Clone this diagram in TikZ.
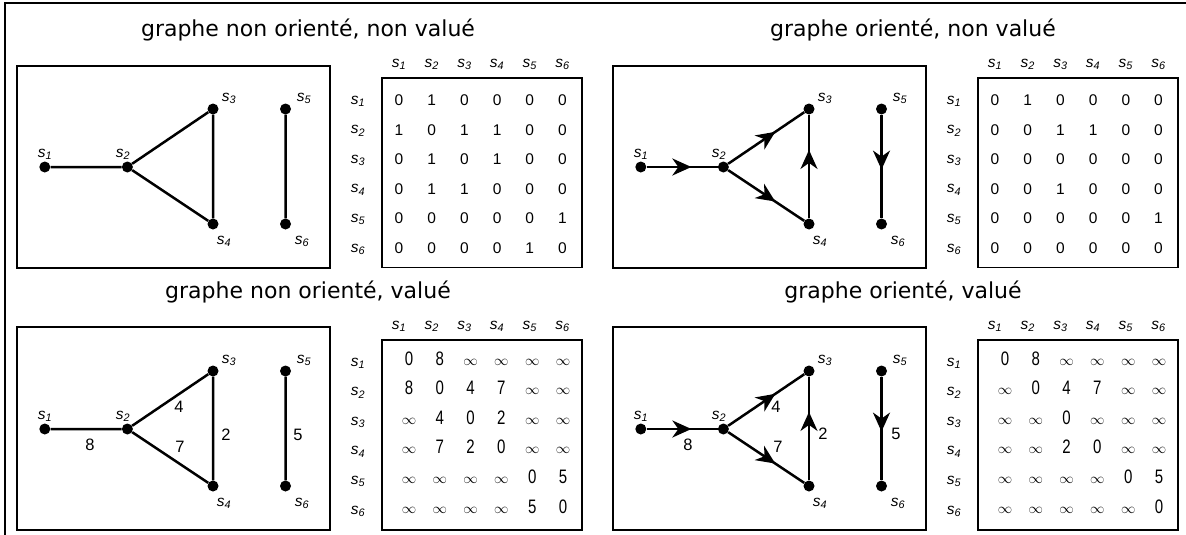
\documentclass[tikz,border=0pt]{standalone}
\usepackage{fontspec}
\setmainfont{Liberation Sans}
\newfontfamily\titlefont{DejaVu Sans}
\newfontfamily\narrowfont[FakeStretch=0.77]{Liberation Sans}
\usetikzlibrary{arrows.meta, decorations.markings}

\newcommand{\vx}[1]{\textit{s}\textsubscript{\textit{#1}}}
\newcommand{\infy}{{\fontsize{14}{14}\selectfont$\infty$}}
% vertex number / x / y / label x / label y
\newcommand{\vertexlist}{1/44.8/167/45/157, 2/127.4/167/123/157, 3/213/109/229/101,
  4/213/224/224/244, 5/285.5/109/304/101, 6/285.5/224/302/244}
% column and row labels of a matrix
\newcommand{\mlabels}[1]{%
  \foreach \c in {1,...,6} {
    \node[lab] (#1h\c) at (366.3+32.7*\c,67) {\vx{\c}};
    \node[lab] (#1r\c) at (358,74.4+29.6*\c) {\vx{\c}};
  }}

\begin{document}
\begin{tikzpicture}[x=1pt, y=-1pt,
  vertex/.style={circle, fill=black, inner sep=0pt, minimum size=11pt},
  link/.style={line width=2.5pt},
  darc/.style={link, postaction={decorate}, decoration={markings,
    mark=at position #1 with {\arrow{Stealth[length=19pt,width=17pt,inset=6pt]}}}},
  frame/.style={line width=2.5pt},
  gbox/.style={line width=2.2pt},
  mbox/.style={line width=1.7pt},
  gtitle/.style={font=\titlefont\fontsize{22}{26}\selectfont, anchor=base, inner sep=0pt},
  lab/.style={font=\fontsize{15.5}{18}\selectfont, anchor=base, inner sep=0pt},
  entry/.style={font=\fontsize{15.5}{18}\selectfont, anchor=base, inner sep=0pt},
  ventry/.style={font=\narrowfont\fontsize{19.5}{23}\selectfont, anchor=base, inner sep=0pt},
  wlab/.style={font=\fontsize{16.5}{19}\selectfont, inner sep=0pt}
]
  \useasboundingbox (0,0) rectangle (1186,535);
  \draw[frame] (5,545) |- (1195,3);

  % graphe non oriente, non value
  \begin{scope}
    \node[gtitle] (t1) at (308,37) {graphe non orienté, non valué};
    \draw[gbox] (17,66) rectangle (330,268);
    \foreach \n/\x/\y/\lx/\ly in \vertexlist {
      \node[vertex] (a\n) at (\x,\y) {};
      \node[lab] (a\n l) at (\lx,\ly) {\vx{\n}};
    }
    \draw[link] (a1) -- (a2) (a2) -- (a3) (a2) -- (a4) (a3) -- (a4) (a5) -- (a6);
    \draw[mbox] (382,78) rectangle (582,267.5);
    \mlabels{a}
    \foreach \r/\row in {1/{0,1,0,0,0,0}, 2/{1,0,1,1,0,0}, 3/{0,1,0,1,0,0},
                         4/{0,1,1,0,0,0}, 5/{0,0,0,0,0,1}, 6/{0,0,0,0,1,0}}
      \foreach \v [count=\c] in \row
        \node[entry] (ae\r\c) at (366.3+32.7*\c,75.9+29.6*\r) {\v};
  \end{scope}

  % graphe oriente, non value
  \begin{scope}[shift={(596,0)}]
    \node[gtitle] (t2) at (317,37) {graphe orienté, non valué};
    \draw[gbox] (17,66) rectangle (330,268);
    \foreach \n/\x/\y/\lx/\ly in \vertexlist {
      \node[vertex] (b\n) at (\x,\y) {};
      \node[lab] (b\n l) at (\lx,\ly) {\vx{\n}};
    }
    \draw[darc=0.63] (b1) -- (b2);
    \draw[darc=0.62] (b2) -- (b3);
    \draw[darc=0.62] (b2) -- (b4);
    \draw[darc=0.66] (b4) -- (b3);
    \draw[darc=0.53] (b5) -- (b6);
    \draw[mbox] (382,78) rectangle (582,267.5);
    \mlabels{b}
    \foreach \r/\row in {1/{0,1,0,0,0,0}, 2/{0,0,1,1,0,0}, 3/{0,0,0,0,0,0},
                         4/{0,0,1,0,0,0}, 5/{0,0,0,0,0,1}, 6/{0,0,0,0,0,0}}
      \foreach \v [count=\c] in \row
        \node[entry] (be\r\c) at (366.3+32.7*\c,75.9+29.6*\r) {\v};
  \end{scope}

  % graphe non oriente, value
  \begin{scope}[shift={(0,262)}]
    \node[gtitle] (t3) at (308,36) {graphe non orienté, valué};
    \draw[gbox] (17,65) rectangle (330,268);
    \foreach \n/\x/\y/\lx/\ly in \vertexlist {
      \node[vertex] (c\n) at (\x,\y) {};
      \node[lab] (c\n l) at (\lx,\ly) {\vx{\n}};
    }
    \draw[link] (c1) -- (c2) (c2) -- (c3) (c2) -- (c4) (c3) -- (c4) (c5) -- (c6);
    \node[wlab] (c12w) at (90,183) {8};
    \node[wlab] (c23w) at (179,145) {4};
    \node[wlab] (c24w) at (180,185) {7};
    \node[wlab] (c34w) at (226,173) {2};
    \node[wlab] (c56w) at (298,173) {5};
    \draw[mbox] (382,78) rectangle (582,268);
    \mlabels{c}
    \foreach \r/\row in {1/{0,8,\infy,\infy,\infy,\infy}, 2/{8,0,4,7,\infy,\infy},
                         3/{\infy,4,0,2,\infy,\infy}, 4/{\infy,7,2,0,\infy,\infy},
                         5/{\infy,\infy,\infy,\infy,0,5}, 6/{\infy,\infy,\infy,\infy,5,0}}
      \foreach \v [count=\c] in \row
        \node[ventry] (ce\r\c) at (378.2+30.8*\c,73.4+29.6*\r) {\v};
  \end{scope}

  % graphe oriente, value
  \begin{scope}[shift={(596,262)}]
    \node[gtitle] (t4) at (307,36) {graphe orienté, valué};
    \draw[gbox] (17,65) rectangle (330,268);
    \foreach \n/\x/\y/\lx/\ly in \vertexlist {
      \node[vertex] (d\n) at (\x,\y) {};
      \node[lab] (d\n l) at (\lx,\ly) {\vx{\n}};
    }
    \draw[darc=0.63] (d1) -- (d2);
    \draw[darc=0.62] (d2) -- (d3);
    \draw[darc=0.62] (d2) -- (d4);
    \draw[darc=0.66] (d4) -- (d3);
    \draw[darc=0.53] (d5) -- (d6);
    \node[wlab] (d12w) at (92,183) {8};
    \node[wlab] (d23w) at (180,145) {4};
    \node[wlab] (d24w) at (182,185) {7};
    \node[wlab] (d43w) at (227,172) {2};
    \node[wlab] (d56w) at (300,172) {5};
    \draw[mbox] (382,78) rectangle (582,268);
    \mlabels{d}
    \foreach \r/\row in {1/{0,8,\infy,\infy,\infy,\infy}, 2/{\infy,0,4,7,\infy,\infy},
                         3/{\infy,\infy,0,\infy,\infy,\infy}, 4/{\infy,\infy,2,0,\infy,\infy},
                         5/{\infy,\infy,\infy,\infy,0,5}, 6/{\infy,\infy,\infy,\infy,\infy,0}}
      \foreach \v [count=\c] in \row
        \node[ventry] (de\r\c) at (378.2+30.8*\c,73.4+29.6*\r) {\v};
  \end{scope}
\end{tikzpicture}
\end{document}
